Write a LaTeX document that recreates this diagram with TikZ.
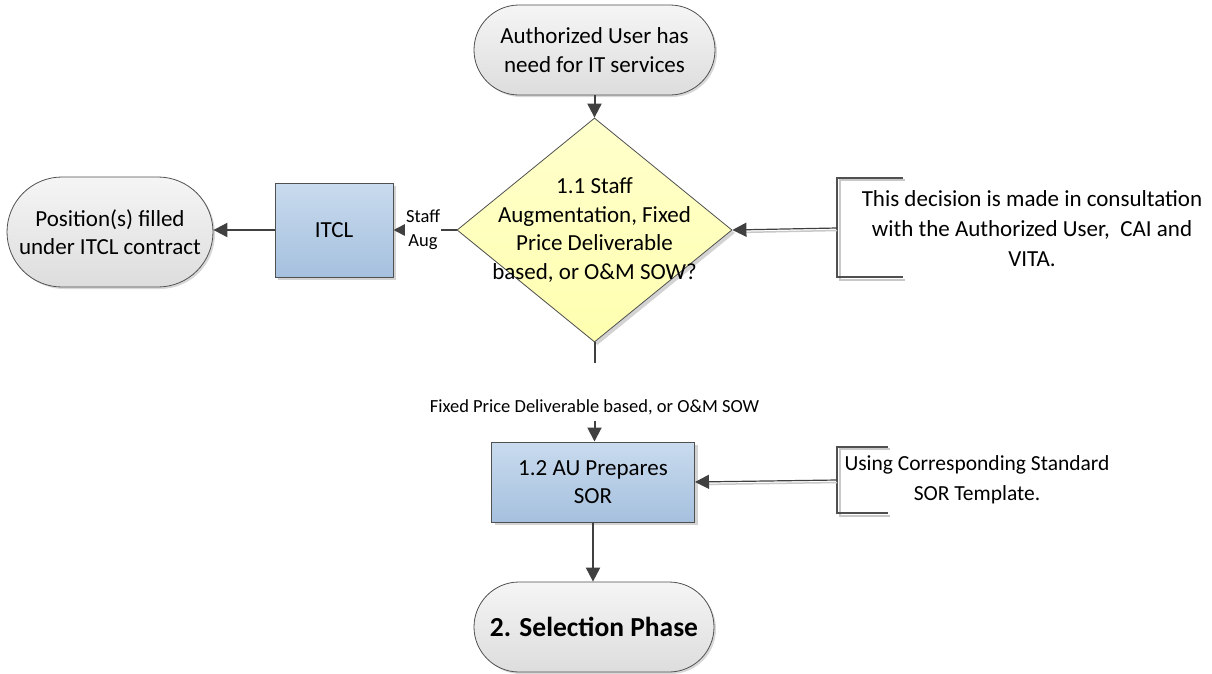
\documentclass[tikz,border=0pt]{standalone}
\usepackage{fontspec}
\setmainfont{Carlito}
\usetikzlibrary{arrows.meta,shapes.geometric,shadows,calc}
\definecolor{lineC}{HTML}{404040}
\definecolor{edgeC}{HTML}{505050}
\definecolor{termTop}{HTML}{F5F5F5}
\definecolor{termBot}{HTML}{DDDDDD}
\definecolor{boxTop}{HTML}{C9DBEE}
\definecolor{boxBot}{HTML}{A5C0DE}
\definecolor{diaTop}{HTML}{FFFFCC}
\definecolor{diaBot}{HTML}{FFFFB0}
\definecolor{shadowC}{HTML}{C8C8C8}
\tikzset{
  maintext/.style={font=\fontsize{23}{28.5}\selectfont, align=center},
  term/.style={draw=edgeC, line width=0.8pt, top color=termTop, bottom color=termBot,
    maintext, inner sep=0pt,
    drop shadow={shadow xshift=2pt, shadow yshift=-2pt, fill=shadowC, opacity=0.7}},
  proc/.style={rectangle, draw=edgeC, line width=1pt, top color=boxTop, bottom color=boxBot,
    maintext, inner sep=0pt,
    drop shadow={shadow xshift=3pt, shadow yshift=-3pt, fill=shadowC, opacity=0.8}},
  dia/.style={diamond, draw=edgeC, line width=0.8pt, top color=diaTop, bottom color=diaBot,
    inner sep=0pt, minimum width=275pt, minimum height=224pt,
    drop shadow={shadow xshift=3pt, shadow yshift=-3pt, fill=shadowC, opacity=0.8}},
  conn/.style={draw=lineC, line width=2pt, -{Triangle[length=14pt,width=14pt]}},
  plainline/.style={draw=lineC, line width=2pt},
  noteconn/.style={draw=lineC, line width=1.2pt, -{Triangle[length=14pt,width=14pt]}},
  bracketline/.style={draw=edgeC, line width=1.2pt},
  bracketshadow/.style={draw=shadowC, line width=1.5pt},
  lbl/.style={font=\fontsize{18.5}{24}\selectfont, align=center, fill=white, inner sep=1pt},
  notetext/.style={font=\fontsize{23}{30}\selectfont, align=center},
}
\begin{document}
\begin{tikzpicture}[x=1pt,y=-1pt]
\useasboundingbox (0,0) rectangle (1212,673);

% nodes
\node[term, minimum width=241pt, minimum height=90pt, rounded corners=45pt] (start) at (594.5,50) {Authorized User has\\need for IT services};
\node[dia] (dec) at (594.5,230) {};
\node[maintext] (dect) at (594.5,230) {1.1 Staff\\Augmentation, Fixed\\Price Deliverable\\based, or O\&M SOW?};
\node[proc, minimum width=118pt, minimum height=94pt] (itcl) at (334,230) {ITCL};
\node[term, minimum width=206pt, minimum height=110pt, rounded corners=55pt] (pos) at (110,232) {Position(s) filled\\under ITCL contract};
\node[proc, minimum width=203pt, minimum height=80pt] (sor) at (593,482) {1.2 AU Prepares\\SOR};
\node[term, minimum width=240pt, minimum height=90pt, rounded corners=45pt, font=\fontsize{27.5}{32}\selectfont\bfseries] (sel) at (594,627) {2. Selection Phase};

% notes
\node[notetext] (n1) at (1032,229) {This decision is made in consultation\\with the Authorized User,\ \ CAI and\\VITA.};
\coordinate (b1) at (837,228);
\node[notetext, font=\fontsize{21.5}{30}\selectfont] (n2) at (977,480) {Using Corresponding Standard\\SOR Template.};
\coordinate (b2) at (837,480);

% brackets
\draw[bracketshadow] ($(b1)+(68,-48)$) -- ($(b1)+(3,-48)$) -- ($(b1)+(3,52)$) -- ($(b1)+(68,52)$);
\draw[bracketline] ($(b1)+(66,-50)$) -- ($(b1)+(0,-50)$) -- ($(b1)+(0,49)$) -- ($(b1)+(66,49)$);
\draw[bracketshadow] ($(b2)+(53,-31)$) -- ($(b2)+(3,-31)$) -- ($(b2)+(3,36)$) -- ($(b2)+(53,36)$);
\draw[bracketline] ($(b2)+(51,-33)$) -- ($(b2)+(0,-33)$) -- ($(b2)+(0,33)$) -- ($(b2)+(51,33)$);

% connectors
\draw[conn] (start.south) -- (dec.north);
\draw[conn] (dec.west) -- node[lbl, xshift=-2pt] (sa) {Staff\\Aug} (itcl.east);
\draw[conn] (itcl.west) -- (itcl.west -| pos.east);
\coordinate (c1) at (594.5,363);
\coordinate (c2) at (594.5,421);
\draw[plainline] (dec.south) -- (c1);
\node[lbl] (fl) at (594.5,407) {Fixed Price Deliverable based, or O\&M SOW};
\draw[conn] (c2) -- (c2 |- sor.north);
\draw[conn] (sor.south) -- (sor.south |- sel.north);
\draw[draw=shadowC, line width=1.5pt] ($(b1)+(0,2.5)$) -- ($(dec.east)+(6,2.5)$);
\draw[noteconn] (b1) -- (dec.east);
\draw[draw=shadowC, line width=1.5pt] ($(b2)+(0,2.5)$) -- ($(sor.east)+(6,2.5)$);
\draw[noteconn] (b2) -- (sor.east);
\end{tikzpicture}
\end{document}
